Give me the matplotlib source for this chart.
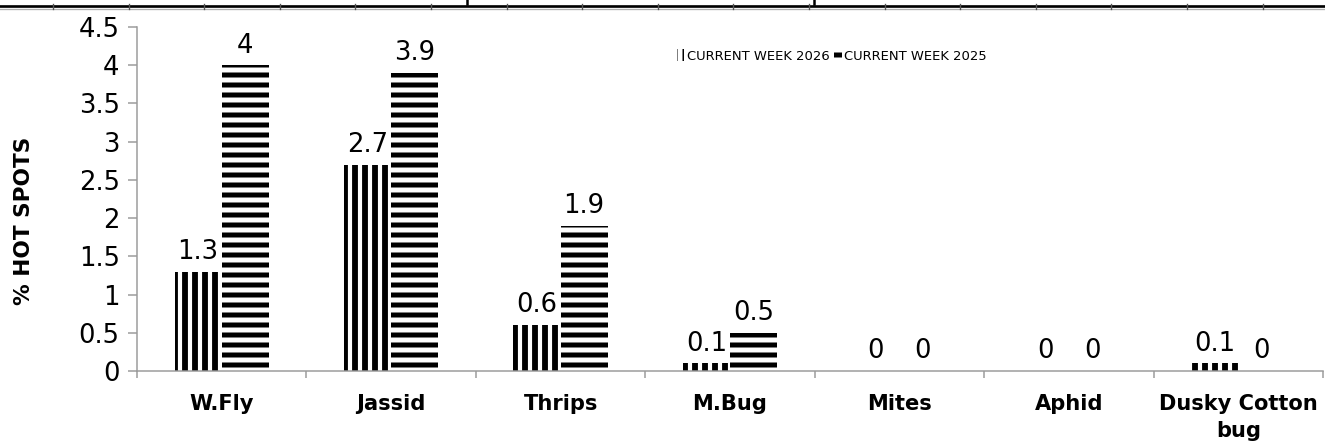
import numpy as np
import matplotlib
matplotlib.use('Agg')
import matplotlib.pyplot as plt
from matplotlib.lines import Line2D

# Data
categories = ['W.Fly', 'Jassid', 'Thrips', 'M.Bug', 'Mites', 'Aphid', 'Dusky Cotton\nbug']
week_2026 = [1.3, 2.7, 0.6, 0.1, 0, 0, 0.1]
week_2025 = [4, 3.9, 1.9, 0.5, 0, 0, 0]
series_names = ['CURRENT WEEK 2026', 'CURRENT WEEK 2025']
y_ticks = [0, 0.5, 1, 1.5, 2, 2.5, 3, 3.5, 4, 4.5]

DPI = 120
W, H = 1325, 444
AXIS_GREY = '#9a9a9a'

plt.rcParams['font.family'] = 'DejaVu Sans'
plt.rcParams['hatch.color'] = 'black'


def make_bars(ax, x, values, hatch, hatch_lw):
    plt.rcParams['hatch.linewidth'] = hatch_lw
    bars = ax.bar(x, values, width=bar_w, color='white', edgecolor='black',
                  linewidth=0, hatch=hatch)
    for b in bars:
        if hasattr(b, 'set_hatch_linewidth'):
            b.set_hatch_linewidth(hatch_lw)
    return bars


fig = plt.figure(figsize=(W / DPI, H / DPI), dpi=DPI)
ax = fig.add_axes([137 / W, (H - 371) / H, (1323 - 137) / W, (371 - 27) / H])

x = np.arange(len(categories))
bar_w = 0.278

b26 = make_bars(ax, x - bar_w / 2, week_2026, '||', 3.5)
b25 = make_bars(ax, x + bar_w / 2, week_2025, '--', 3.0)

for bars, vals in [(b26, week_2026), (b25, week_2025)]:
    ax.bar_label(bars, labels=[f'{v:g}' for v in vals], padding=4,
                 fontsize=15.5, color='black')

ax.set_xlim(-0.5, len(categories) - 0.5)
ax.set_ylim(0, 4.5)
ax.set_yticks(y_ticks)
ax.set_yticklabels([f'{v:g}' for v in y_ticks], fontsize=15.5)

# category ticks sit on the boundaries, labels in the middle
ax.set_xticks(np.arange(-0.5, len(categories), 1.0))
ax.set_xticklabels([])
ax.set_xticks(x, minor=True)
ax.set_xticklabels(categories, minor=True, fontsize=12.6, fontweight='bold',
                   linespacing=1.45)
ax.tick_params(axis='x', which='minor', length=0, pad=13.5)
ax.tick_params(axis='x', which='major', length=4.2, color=AXIS_GREY, width=0.9)
ax.tick_params(axis='y', length=5.4, color=AXIS_GREY, width=0.9, pad=5)

for side in ['top', 'right']:
    ax.spines[side].set_visible(False)
for side in ['left', 'bottom']:
    ax.spines[side].set_color(AXIS_GREY)
    ax.spines[side].set_linewidth(0.9)

ax.set_ylabel('% HOT SPOTS', fontsize=13, fontweight='bold')
ax.yaxis.set_label_coords(-0.087, 0.436)

leg = fig.legend([b26[0], b25[0]], series_names, loc='center',
                 bbox_to_anchor=(832 / W, 1 - 56 / H), ncol=2, frameon=False,
                 fontsize=7.9, handlelength=0.55, handleheight=1.0,
                 handletextpad=0.2, columnspacing=0.35, borderpad=0)

# cut-off table border at the very top of the image
fig.add_artist(Line2D([0, 1], [1 - 5.5 / H] * 2, color='black', lw=1.6,
                      transform=fig.transFigure))
fig.add_artist(Line2D([0, 1], [1 - 8.5 / H] * 2, color='#b0b0b0', lw=0.8,
                      transform=fig.transFigure))
for tx in np.arange(53, W, 75.6):
    fig.add_artist(Line2D([tx / W] * 2, [1 - 4 / H, 1 - 9 / H], color='#555555',
                          lw=0.8, transform=fig.transFigure))
for tx in [467, 814]:
    fig.add_artist(Line2D([tx / W] * 2, [1, 1 - 4 / H], color='black',
                          lw=1.5, transform=fig.transFigure))

fig.savefig('out.png', dpi=DPI, facecolor='white')
